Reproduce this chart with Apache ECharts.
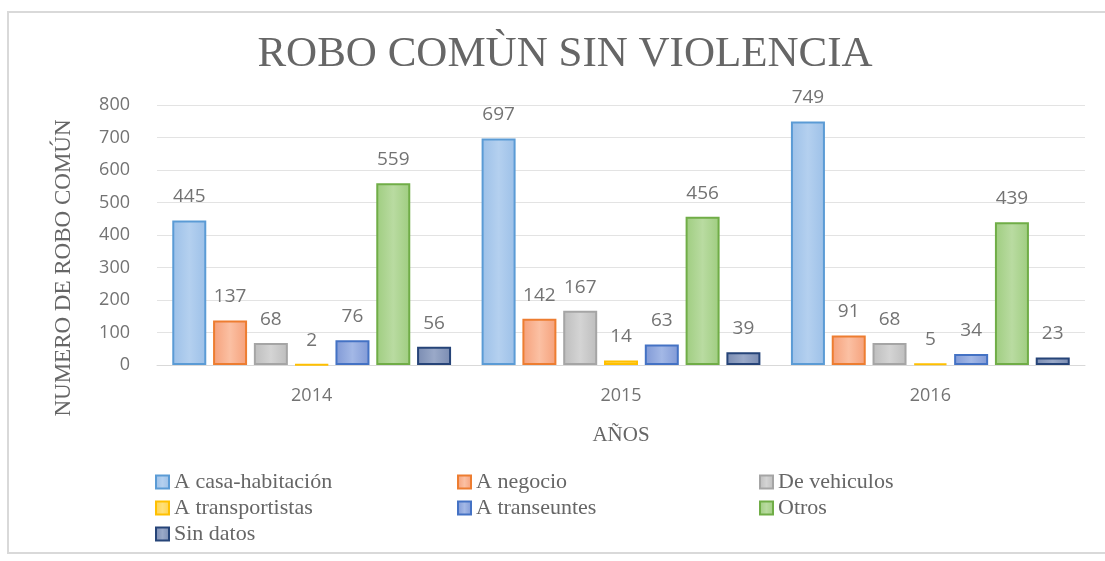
<!DOCTYPE html>
<html>
<head>
<meta charset="utf-8">
<script src="https://cdn.jsdelivr.net/npm/echarts@6/dist/echarts.min.js"></script>
<style>
  html, body { margin: 0; padding: 0; background: #fff; }
  #charts { width: 1105px; height: 561px; }
</style>
</head>
<body>
<div id="charts"></div>
<script>
var years = ['2014', '2015', '2016'];
var seriesNames = ['A casa-habitación', 'A negocio', 'De vehiculos', 'A transportistas', 'A transeuntes', 'Otros', 'Sin datos'];
var casaHabitacion = [445, 697, 749];
var negocio = [137, 142, 91];
var vehiculos = [68, 167, 68];
var transportistas = [2, 14, 5];
var transeuntes = [76, 63, 34];
var otros = [559, 456, 439];
var sinDatos = [56, 39, 23];
var yTicks = [0, 100, 200, 300, 400, 500, 600, 700, 800];

var allData = [casaHabitacion, negocio, vehiculos, transportistas, transeuntes, otros, sinDatos];
// borde, relleno claro, relleno en los lados
var palette = [
    ['#5b9bd5', '#b4d0ef', '#9cc0e8'],
    ['#ed7d31', '#fbc0a3', '#f5a07a'],
    ['#a5a5a5', '#d4d4d4', '#bdbdbd'],
    ['#ffc000', '#ffe07a', '#ffd34d'],
    ['#4472c4', '#a3b8e6', '#8099d6'],
    ['#70ad47', '#b9dba1', '#9fcd80'],
    ['#264478', '#9aa9c8', '#7a8cb2']
];

var myChart = echarts.init(document.getElementById('charts'));

var series = seriesNames.map(function (name, i) {
    return {
        name: name,
        type: 'bar',
        data: allData[i],
        barWidth: 34,
        barGap: '20%',
        itemStyle: {
            color: new echarts.graphic.LinearGradient(0, 0, 1, 0, [
                {offset: 0, color: palette[i][2]},
                {offset: 0.5, color: palette[i][1]},
                {offset: 1, color: palette[i][2]}
            ]),
            borderColor: palette[i][0],
            borderWidth: 2
        },
        label: {
            show: true,
            position: 'top',
            distance: 14,
            color: '#737373',
            fontFamily: 'Open Sans',
            fontSize: 19
        }
    };
});

var option = {
    backgroundColor: '#fff',
    animation: false,
    title: {
        text: 'ROBO COMÙN SIN VIOLENCIA',
        left: 560,
        textAlign: 'center',
        top: 28,
        textStyle: {
            fontFamily: 'Liberation Serif',
            fontWeight: 'normal',
            fontSize: 43,
            color: '#666'
        }
    },
    graphic: [
        {
            type: 'rect',
            shape: {x: 8, y: 12, width: 1110, height: 541},
            style: {fill: 'none', stroke: '#d9d9d9', lineWidth: 2},
            silent: true
        },
        {
            type: 'text',
            x: 64,
            y: 268,
            rotation: Math.PI / 2,
            style: {
                text: 'NUMERO DE ROBO COMÚN',
                fontFamily: 'Liberation Serif',
                fontSize: 23,
                fill: '#666',
                align: 'center',
                verticalAlign: 'middle'
            }
        }
    ],
    legend: {
        data: seriesNames,
        icon: 'rect',
        left: 150,
        top: 466,
        width: 930,
        itemWidth: 13,
        itemHeight: 13,
        itemGap: 4,
        textStyle: {
            fontFamily: 'Liberation Serif',
            fontSize: 22,
            lineHeight: 22,
            color: '#666',
            width: 279,
            overflow: 'truncate'
        }
    },
    grid: {
        left: 157,
        right: 20,
        top: 105,
        bottom: 196,
        containLabel: false
    },
    xAxis: {
        type: 'category',
        data: years,
        name: 'AÑOS',
        nameLocation: 'middle',
        nameGap: 60,
        nameTextStyle: {
            fontFamily: 'Liberation Serif',
            fontSize: 21,
            color: '#666'
        },
        axisLine: {lineStyle: {color: '#d9d9d9', width: 1}},
        axisTick: {show: false},
        axisLabel: {
            margin: 22,
            color: '#737373',
            fontFamily: 'Open Sans',
            fontSize: 18
        }
    },
    yAxis: {
        type: 'value',
        min: yTicks[0],
        max: yTicks[yTicks.length - 1],
        interval: 100,
        axisLine: {show: false},
        axisTick: {show: false},
        splitLine: {lineStyle: {color: '#e3e3e3'}},
        axisLabel: {
            margin: 27,
            color: '#737373',
            fontFamily: 'Open Sans',
            fontSize: 18
        }
    },
    series: series
};

myChart.setOption(option);
</script>
</body>
</html>
